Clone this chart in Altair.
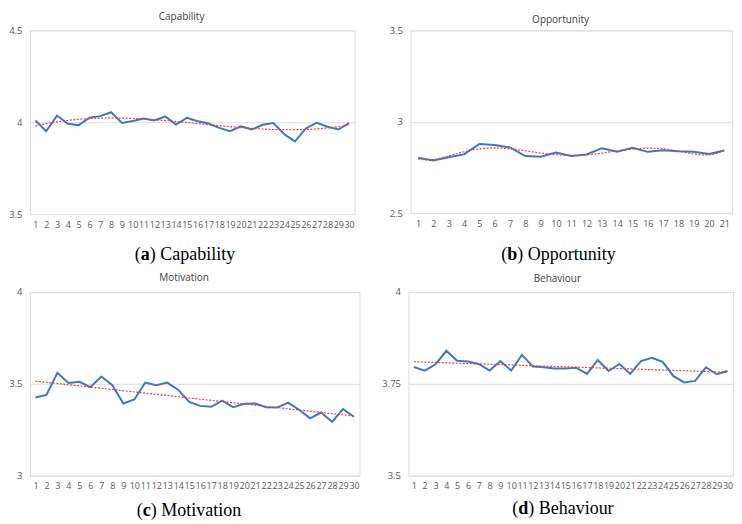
import altair as alt
import pandas as pd

# ---- data ----
cap_x = list(range(1, 31))
cap_y = [4.009, 3.951, 4.036, 3.991, 3.984, 4.025, 4.033, 4.054, 3.996, 4.007,
         4.020, 4.009, 4.031, 3.987, 4.024, 4.005, 3.993, 3.969, 3.951, 3.978,
         3.960, 3.986, 3.995, 3.935, 3.895, 3.966, 3.996, 3.975, 3.960, 3.995]

opp_x = list(range(1, 22))
opp_y = [2.803, 2.788, 2.805, 2.821, 2.878, 2.872, 2.859, 2.812, 2.808, 2.831,
         2.812, 2.821, 2.855, 2.836, 2.857, 2.835, 2.844, 2.838, 2.835, 2.823,
         2.842]

mot_x = list(range(1, 31))
mot_y = [3.426, 3.440, 3.560, 3.505, 3.511, 3.482, 3.540, 3.493, 3.393, 3.415,
         3.507, 3.493, 3.507, 3.467, 3.402, 3.380, 3.375, 3.409, 3.373, 3.391,
         3.393, 3.373, 3.371, 3.398, 3.359, 3.312, 3.344, 3.293, 3.362, 3.321]

beh_x = list(range(1, 31))
beh_y = [3.796, 3.786, 3.803, 3.840, 3.813, 3.811, 3.804, 3.786, 3.812, 3.786,
         3.829, 3.797, 3.795, 3.792, 3.792, 3.794, 3.777, 3.815, 3.785, 3.804,
         3.777, 3.812, 3.821, 3.810, 3.771, 3.754, 3.758, 3.795, 3.776, 3.785]

titles = ["Capability", "Opportunity", "Motivation", "Behaviour"]
letters = ["a", "b", "c", "d"]
y_domains = [[3.5, 4.5], [2.5, 3.5], [3.0, 4.0], [3.5, 4.0]]
y_ticks = [[3.5, 4.0, 4.5], [2.5, 3.0, 3.5], [3.0, 3.5, 4.0], [3.5, 3.75, 4.0]]

BLUE = "#3d78c0"
RED = "#e8403a"
LABEL = "#595959"
TITLE = "#404040"
GRID = "#dedede"
SANS = "Open Sans"
SERIF = "Liberation Serif"


def panel(xs, ys, title, letter, ydom, yt, width, height, method, order,
          pivot, lw, cap_dy, title_offset):
    df = pd.DataFrame({"x": xs, "y": ys})
    n = len(xs)
    x_enc = alt.X("x:Q",
                  scale=alt.Scale(domain=[0.5, n + 0.5], nice=False, zero=False),
                  axis=alt.Axis(values=xs, title=None, grid=False, domain=False,
                                ticks=False, labelFontSize=9, labelFont=SANS,
                                labelColor=LABEL, labelPadding=6,
                                labelOverlap=False, labelAngle=0, format="d",
                                labelFlush=False))
    y_enc = alt.Y("y:Q",
                  scale=alt.Scale(domain=ydom, nice=False, zero=False),
                  axis=alt.Axis(values=yt, title=None, grid=True, gridColor=GRID,
                                gridWidth=1, domain=False, ticks=False,
                                labelFontSize=9.5, labelFont=SANS,
                                labelColor=LABEL, labelPadding=8,
                                labelOverlap=False, format=".2~f"))
    base = alt.Chart(df)
    line = base.mark_line(color=BLUE, strokeWidth=2).encode(x=x_enc, y=y_enc)
    if method == "poly":
        reg = base.transform_regression("x", "y", method="poly", order=order)
    else:
        reg = base.transform_regression("x", "y", method="linear")
    trend = reg.mark_line(color=RED, strokeWidth=1.2, strokeDash=[2, 1.5]).encode(
        x=x_enc, y=y_enc)

    cap = alt.Chart(alt.Data(values=[{"o": "(", "l": letter, "n": ") " + title}]))
    cy = alt.value(height + cap_dy)
    t_open = cap.mark_text(align="right", baseline="middle", font=SERIF,
                           fontSize=18, color="black").encode(
        x=alt.value(pivot - lw), y=cy, text="o:N")
    t_letter = cap.mark_text(align="right", baseline="middle", font=SERIF,
                             fontSize=18, fontWeight="bold", color="black").encode(
        x=alt.value(pivot), y=cy, text="l:N")
    t_name = cap.mark_text(align="left", baseline="middle", font=SERIF,
                           fontSize=18, color="black").encode(
        x=alt.value(pivot), y=cy, text="n:N")

    return alt.layer(line, trend, t_open, t_letter, t_name).properties(
        width=width, height=height,
        title=alt.TitleParams(title, fontSize=10, font=SANS, color=TITLE,
                              fontWeight="normal", offset=title_offset,
                              frame="bounds"))


pa = panel(cap_x, cap_y, titles[0], letters[0], y_domains[0], y_ticks[0],
           325, 184, "poly", 3, 120, 9, 41, 3)
pb = panel(opp_x, opp_y, titles[1], letters[1], y_domains[1], y_ticks[1],
           322, 183, "poly", 6, 107, 10, 42, 0)
pc = panel(mot_x, mot_y, titles[2], letters[2], y_domains[2], y_ticks[2],
           330, 184, "linear", 1, 121, 8, 35, 4)
pd_ = panel(beh_x, beh_y, titles[3], letters[3], y_domains[3], y_ticks[3],
            325, 184, "linear", 1, 120, 10, 33, 3)

chart = alt.vconcat(
    alt.hconcat(pa, pb, spacing=33),
    alt.hconcat(pc, pd_, spacing=20),
    spacing=7,
    padding={"top": 3, "left": 0, "right": 0, "bottom": 0},
).configure_view(stroke=None).configure(background="white")

chart.save("out.html", embed_options={"renderer": "svg", "actions": False})
